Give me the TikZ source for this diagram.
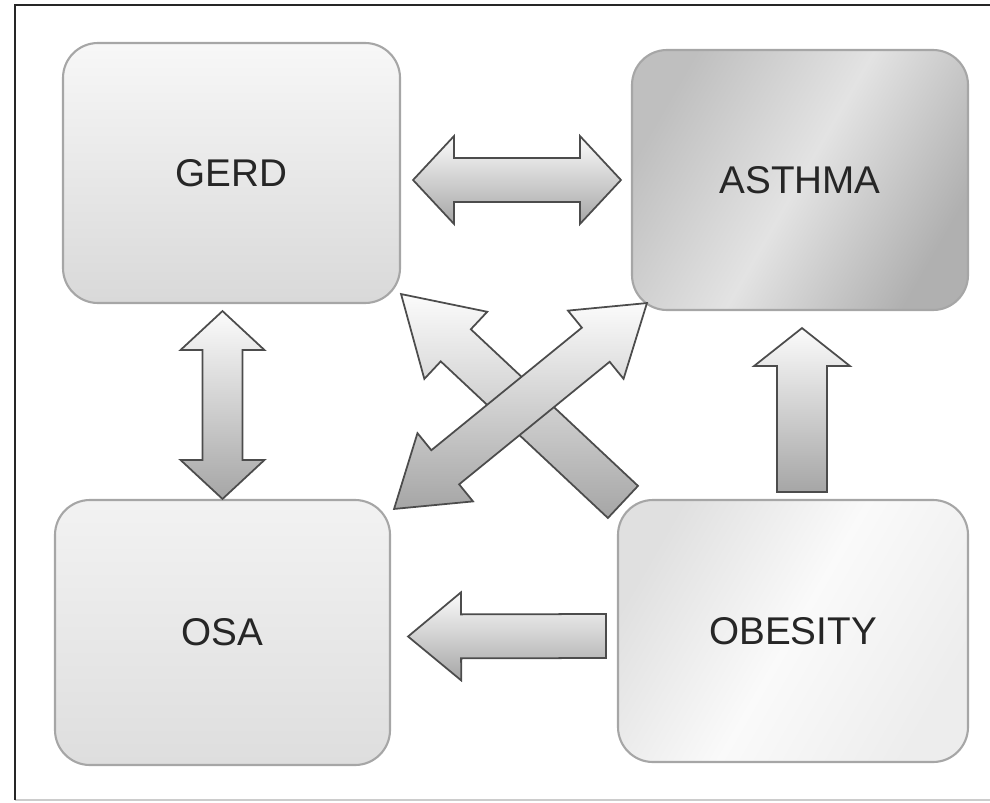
\documentclass[tikz,border=0pt]{standalone}
\usepackage{fontspec}
\setmainfont{Liberation Sans}
\usetikzlibrary{calc,positioning}

\tikzset{
  box/.style={draw=gray!70, line width=1.2pt, rounded corners=7mm, inner sep=0pt,
    font=\fontsize{22}{26}\selectfont, text=black!85},
  blockarrow/.style={draw=gray!60!black, line width=1pt, line join=miter,
    top color=gray!3, bottom color=gray!70},
}

% block arrow: tail, tip, shaft half width, head half width, head length
\newcommand{\fatarrow}[5]{%
  \coordinate (neck) at ($(#2)!#5!(#1)$);
  \shade[blockarrow] ($(#1)!#3!90:(#2)$) -- ($(neck)!#3!90:(#2)$) -- ($(neck)!#4!90:(#2)$) -- (#2)
    -- ($(neck)!#4!-90:(#2)$) -- ($(neck)!#3!-90:(#2)$) -- ($(#1)!#3!-90:(#2)$) -- cycle;
}
% double block arrow: tip, tip, shaft half width, head half width, head length
\newcommand{\fatdarrow}[5]{%
  \coordinate (necka) at ($(#1)!#5!(#2)$);
  \coordinate (neckb) at ($(#2)!#5!(#1)$);
  \shade[blockarrow] (#1) -- ($(necka)!#4!90:(#2)$) -- ($(necka)!#3!90:(#2)$)
    -- ($(neckb)!#3!90:(#2)$) -- ($(neckb)!#4!90:(#2)$) -- (#2)
    -- ($(neckb)!#4!-90:(#2)$) -- ($(neckb)!#3!-90:(#2)$)
    -- ($(necka)!#3!-90:(#2)$) -- ($(necka)!#4!-90:(#2)$) -- cycle;
}

\begin{document}
\begin{tikzpicture}[x=0.2mm, y=-0.2mm]
  \useasboundingbox (0,0) rectangle (990,802);

  % Frame
  \draw[gray!40, line width=0.8pt] (15,800) -- (990,800);
  \draw[black!85, line width=1.4pt] (15,800) -- (15,5) -- (990,5);

  % Conditions
  \node[box, minimum width=67.4mm, minimum height=52mm,
    top color=gray!6, bottom color=gray!30] (gerd) at (231.5,173) {GERD};
  \node[box, minimum width=67.2mm, minimum height=52mm,
    left color=gray!50, right color=gray!62, middle color=gray!22, shading angle=60] (asthma) at (800,180) {ASTHMA};
  \node[box, minimum width=67mm, minimum height=53mm,
    top color=gray!10, bottom color=gray!26] (osa) at (222.5,632.5) {OSA};
  \node[box, minimum width=70mm, minimum height=52.4mm,
    left color=gray!24, right color=gray!14, middle color=gray!4, shading angle=60] (obesity) at (793,631) {OBESITY};

  % Arrow ends
  \coordinate (ga1) at ($(gerd.east)+(12,7)$);
  \coordinate (ga2) at ($(asthma.west)+(-10,0)$);
  \coordinate (go1) at ($(gerd.south -| osa.north)+(0,7)$);
  \coordinate (go2) at (osa.north);
  \coordinate (ba1) at ($(asthma.south |- obesity.north)+(2,-7)$);
  \coordinate (ba2) at ($(asthma.south)+(2,17)$);
  \coordinate (bo1) at ($(obesity.west)+(-11,5)$);
  \coordinate (bo2) at ($(osa.east)+(17,4)$);
  \coordinate (bg1) at ($(obesity.north west)+(6,3)$);
  \coordinate (bg2) at ($(gerd.south east)+(0,-10)$);
  \coordinate (oa1) at ($(osa.north east)+(3,10)$);
  \coordinate (oa2) at ($(asthma.south west)+(16,-8)$);

  % Arrows
  \fatdarrow{ga1}{ga2}{4.4mm}{8.8mm}{8.2mm}
  \fatdarrow{go1}{go2}{4mm}{8.4mm}{7.8mm}
  \fatarrow{ba1}{ba2}{5mm}{9.6mm}{7.6mm}
  \fatarrow{bo1}{bo2}{4.4mm}{8.8mm}{10.6mm}
  \fatarrow{bg1}{bg2}{4.4mm}{9.2mm}{15mm}
  \fatdarrow{oa1}{oa2}{4.4mm}{8.8mm}{13.2mm}
\end{tikzpicture}
\end{document}
